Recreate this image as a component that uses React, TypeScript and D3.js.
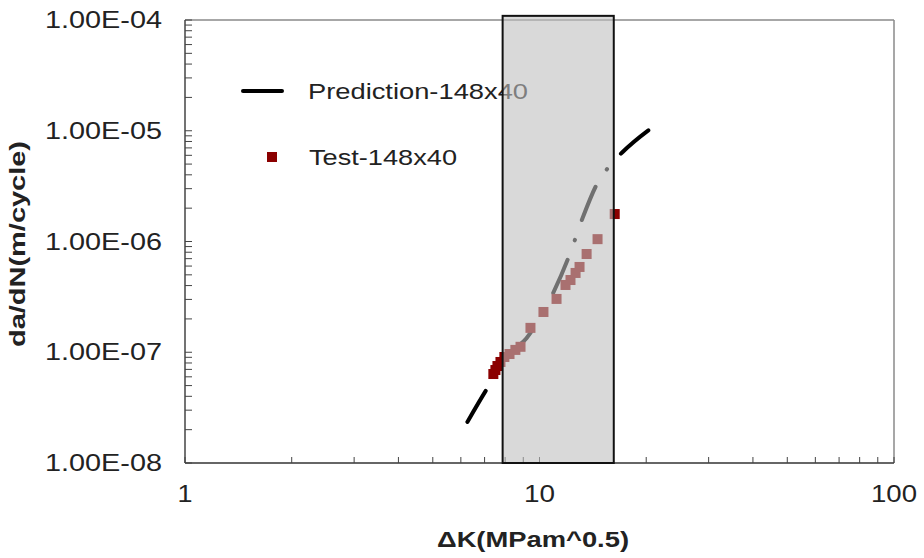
import React from "react";
import * as d3 from "d3";

const xTickValues = [1, 10, 100];
const xTickLabels = ["1", "10", "100"];
const yTickValues = [1e-8, 1e-7, 1e-6, 1e-5, 1e-4];
const yTickLabels = ["1.00E-08", "1.00E-07", "1.00E-06", "1.00E-05", "1.00E-04"];

const predK = [6.26, 7.13, 8.33, 9.19, 10.3, 11.03, 12.15, 13.23, 14.58, 15.66, 17.16, 20.86];
const predRate = [2.35e-8, 4.75e-8, 1.0e-7, 1.34e-7, 2.4e-7, 3.65e-7, 7.55e-7, 1.63e-6, 3.38e-6, 4.7e-6, 6.43e-6, 1.08e-5];

const testK = [7.41, 7.51, 7.61, 7.76, 7.96, 8.23, 8.55, 8.84, 9.43, 10.26, 11.17, 11.84, 12.23, 12.64, 12.97, 13.58, 14.58, 16.3];
const testRate = [6.36e-8, 6.91e-8, 7.51e-8, 8.17e-8, 9.06e-8, 9.64e-8, 1.05e-7, 1.12e-7, 1.66e-7, 2.31e-7, 3.03e-7, 4.05e-7, 4.49e-7, 5.2e-7, 5.89e-7, 7.71e-7, 1.05e-6, 1.77e-6];

const shadedK = [7.87, 16.2];
const shadedRate = [1e-8, 1.09e-4];

const seriesNames = ["Prediction-148x40", "Test-148x40"];

const W = 924;
const H = 558;
const L = 185, R = 894, T = 20, B = 463;

export default function App() {
  const x = d3.scaleLog().domain([1, 100]).range([L, R]);
  const y = d3.scaleLog().domain([1e-8, 1e-4]).range([B, T]);

  const predPts: [number, number][] = predK.map((k, i) => [x(k), y(predRate[i])]);
  const line = d3.line().curve(d3.curveMonotoneX);
  const predPath = line(predPts) || "";

  const minorX: number[] = [];
  for (let dec = 1; dec < 100; dec *= 10) for (let m = 1; m <= 9; m++) minorX.push(dec * m);
  minorX.push(100);
  const minorY: number[] = [];
  for (let e = -8; e < -4; e++) for (let m = 1; m <= 9; m++) minorY.push(m * Math.pow(10, e));
  minorY.push(1e-4);

  const font = "'Liberation Sans', Arial, sans-serif";
  const sq = 10;

  return (
    <svg width={W} height={H} style={{ position: "absolute", left: 0, top: 0, background: "#fff" }}>
      <rect x={0} y={0} width={W} height={H} fill="#fff" />
      {/* frame */}
      <line x1={L} y1={T} x2={R} y2={T} stroke="#8a8a8a" strokeWidth={1.5} />
      <line x1={R} y1={T} x2={R} y2={B} stroke="#8a8a8a" strokeWidth={1.5} />
      <line x1={L} y1={T} x2={L} y2={B} stroke="#444" strokeWidth={1.5} />
      <line x1={L} y1={B} x2={R} y2={B} stroke="#333" strokeWidth={1.5} />
      {minorX.map((v, i) => (
        <line key={"tx" + i} x1={x(v)} x2={x(v)} y1={B} y2={B - 6} stroke="#444" strokeWidth={1} />
      ))}
      {minorY.map((v, i) => (
        <line key={"ty" + i} x1={L} x2={L + 7} y1={y(v)} y2={y(v)} stroke="#444" strokeWidth={1} />
      ))}
      {/* tick labels */}
      {yTickValues.map((v, i) => (
        <text key={"yl" + i} x={162} y={y(v) + 8} textAnchor="end" fontFamily={font} fontSize={23}
          fill="#222" textLength={117} lengthAdjust="spacingAndGlyphs">{yTickLabels[i]}</text>
      ))}
      {xTickValues.map((v, i) => (
        <text key={"xl" + i} x={x(v)} y={502} textAnchor="middle" fontFamily={font} fontSize={23}
          fill="#222" textLength={[15, 31, 46][i]} lengthAdjust="spacingAndGlyphs">{xTickLabels[i]}</text>
      ))}
      {/* axis titles */}
      <text x={533} y={547} textAnchor="middle" fontFamily={font} fontSize={22} fontWeight="bold"
        fill="#222" textLength={192} lengthAdjust="spacingAndGlyphs">ΔK(MPam^0.5)</text>
      <text transform={`translate(25, 244) rotate(-90)`} textAnchor="middle" fontFamily={font} fontSize={22}
        fontWeight="bold" fill="#222" textLength={206} lengthAdjust="spacingAndGlyphs">da/dN(m/cycle)</text>
      {/* legend */}
      <line x1={243} x2={282} y1={91} y2={91} stroke="#000" strokeWidth={4} strokeLinecap="round" />
      <text x={308} y={99} fontFamily={font} fontSize={22} fill="#222" textLength={220}
        lengthAdjust="spacingAndGlyphs">{seriesNames[0]}</text>
      <rect x={272 - sq / 2} y={157 - sq / 2} width={sq} height={sq} fill="#8b0000" />
      <text x={309} y={165} fontFamily={font} fontSize={22} fill="#222" textLength={148}
        lengthAdjust="spacingAndGlyphs">{seriesNames[1]}</text>
      {/* prediction */}
      <path d={predPath} fill="none" stroke="#000" strokeWidth={4} strokeLinecap="round"
        strokeDasharray="36 20.75 0.5 20.75" />
      {/* test */}
      {testK.map((k, i) => (
        <rect key={"t" + i} x={x(k) - sq / 2} y={y(testRate[i]) - sq / 2} width={sq} height={sq} fill="#8b0000" />
      ))}
      {/* shaded band */}
      <rect x={x(shadedK[0])} y={y(shadedRate[1])} width={x(shadedK[1]) - x(shadedK[0])}
        height={y(shadedRate[0]) - y(shadedRate[1])} fill="rgb(190,190,190)" fillOpacity={0.59}
        stroke="#111" strokeWidth={2} />
    </svg>
  );
}
